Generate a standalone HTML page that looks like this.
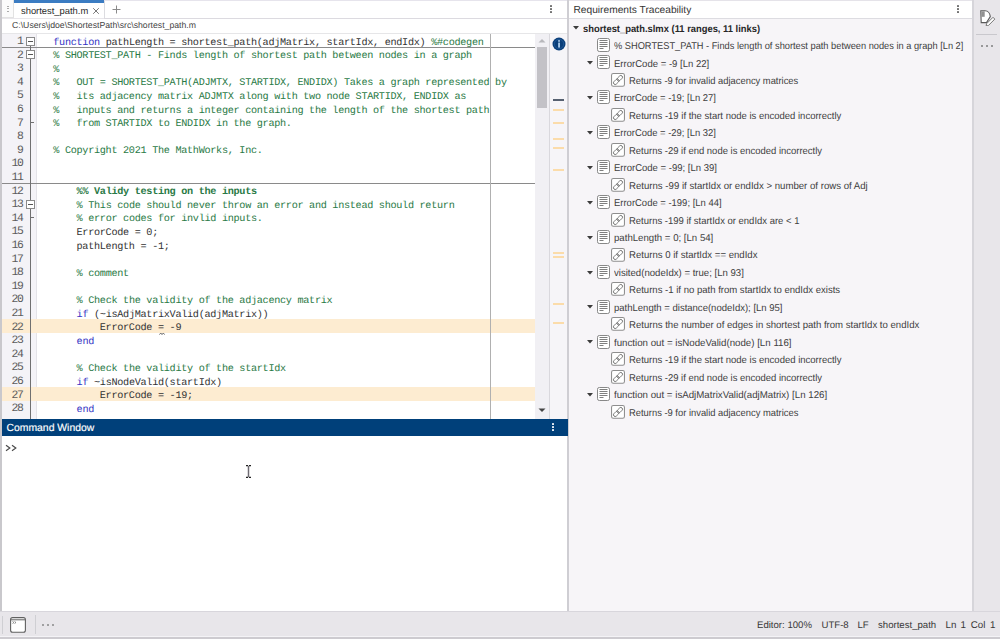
<!DOCTYPE html>
<html><head><meta charset="utf-8">
<style>
*{box-sizing:border-box;margin:0;padding:0}
html,body{width:1000px;height:639px;overflow:hidden}
body{position:relative;background:#e8e6ea;font-family:"Liberation Sans",sans-serif;color:#333;text-rendering:geometricPrecision}
.a{position:absolute}
.code{font-family:"Liberation Mono",monospace;font-size:10.2px;letter-spacing:-0.3px;line-height:13.6px;white-space:pre;color:#333}
.kw{color:#3434c4}
.cm{color:#2a7a46}
.ln{font-family:"Liberation Mono",monospace;font-size:11.4px;letter-spacing:-1.25px;line-height:13.6px;white-space:pre;color:#5c5c5c;text-align:right}
.tree{font-size:9.9px;white-space:pre;color:#404040}
.row{position:absolute;height:17px}
</style></head><body>

<!-- left border -->
<div class="a" style="left:0;top:0;width:2px;height:611px;background:#c9c8cc"></div>

<!-- tab strip -->
<div class="a" style="left:2px;top:0;width:565px;height:18px;background:#fff"></div>
<div class="a" style="left:2px;top:0;width:12px;height:18px;background:#fbfbfb;border-right:1px solid #e2e2e2;border-bottom:1px solid #e2e2e2"></div>
<div class="a" style="left:7px;top:6px;width:2px;height:6px;border-top:1px solid #aaa;border-bottom:1px solid #aaa"></div>
<div class="a" style="left:7px;top:8px;width:2px;height:2px;border-top:1px solid #aaa"></div>
<div class="a" style="left:104px;top:0;width:463px;height:1px;background:#e6e4ec"></div>
<div class="a" style="left:104px;top:1px;width:1px;height:17px;background:#dcdce0"></div>
<div class="a" style="left:104px;top:18px;width:463px;height:1px;background:#dcdae0"></div>
<div class="a" style="left:14px;top:0;width:90px;height:3px;background:#3b7cc2"></div>
<div class="a" style="left:21px;top:5px;font-size:9.4px;line-height:12px;color:#2a2a2a">shortest_path.m</div>
<svg class="a" style="left:92px;top:7px" width="8" height="8"><path d="M1.2 1.2L6.8 6.8M6.8 1.2L1.2 6.8" stroke="#6a6a6a" stroke-width="0.9"/></svg>
<svg class="a" style="left:112px;top:5px" width="9" height="9"><path d="M4.5 0.5V8.5M0.5 4.5H8.5" stroke="#8a8a8a" stroke-width="1"/></svg>
<!-- kebab -->
<div class="a" style="left:550px;top:4.8px;width:2px;height:2px;background:#707070;border-radius:0.6px"></div>
<div class="a" style="left:550px;top:8px;width:2px;height:2px;background:#707070;border-radius:0.6px"></div>
<div class="a" style="left:550px;top:11.2px;width:2px;height:2px;background:#707070;border-radius:0.6px"></div>

<!-- path bar -->
<div class="a" style="left:2px;top:19px;width:565px;height:15px;background:#fff"></div>
<div class="a" style="left:2px;top:33px;width:565px;height:1px;background:#e6e6e8"></div>
<div class="a" style="left:12px;top:20px;font-size:8.7px;line-height:11px;color:#444">C:\Users\jdoe\ShortestPath\src\shortest_path.m</div>

<!-- editor -->
<div class="a" style="left:2px;top:34px;width:565px;height:385px;background:#fff"></div>
<div class="a" style="left:2px;top:34px;width:35px;height:385px;background:#f4f3f7"></div>
<div class="a" style="left:36px;top:34px;width:1px;height:385px;background:#e4e3e8"></div>

<!-- highlights -->
<div class="a" style="left:2px;top:319.2px;width:533px;height:13.6px;background:#fdecd1"></div>
<div class="a" style="left:2px;top:387.2px;width:533px;height:13.6px;background:#fdecd1"></div>

<!-- cell break lines -->
<div class="a" style="left:2px;top:46.6px;width:533px;height:1px;background:#8a8a8a"></div>
<div class="a" style="left:2px;top:183px;width:533px;height:1px;background:#8a8a8a"></div>

<!-- right margin line -->
<div class="a" style="left:490px;top:34px;width:1px;height:385px;background:#b0b0b0"></div>

<!-- line numbers -->
<div class="a ln" style="left:2px;top:35.90px;width:20.7px">1</div>
<div class="a ln" style="left:2px;top:49.50px;width:20.7px">2</div>
<div class="a ln" style="left:2px;top:63.10px;width:20.7px">3</div>
<div class="a ln" style="left:2px;top:76.70px;width:20.7px">4</div>
<div class="a ln" style="left:2px;top:90.30px;width:20.7px">5</div>
<div class="a ln" style="left:2px;top:103.90px;width:20.7px">6</div>
<div class="a ln" style="left:2px;top:117.50px;width:20.7px">7</div>
<div class="a ln" style="left:2px;top:131.10px;width:20.7px">8</div>
<div class="a ln" style="left:2px;top:144.70px;width:20.7px">9</div>
<div class="a ln" style="left:2px;top:158.30px;width:20.7px">10</div>
<div class="a ln" style="left:2px;top:171.90px;width:20.7px">11</div>
<div class="a ln" style="left:2px;top:185.50px;width:20.7px">12</div>
<div class="a ln" style="left:2px;top:199.10px;width:20.7px">13</div>
<div class="a ln" style="left:2px;top:212.70px;width:20.7px">14</div>
<div class="a ln" style="left:2px;top:226.30px;width:20.7px">15</div>
<div class="a ln" style="left:2px;top:239.90px;width:20.7px">16</div>
<div class="a ln" style="left:2px;top:253.50px;width:20.7px">17</div>
<div class="a ln" style="left:2px;top:267.10px;width:20.7px">18</div>
<div class="a ln" style="left:2px;top:280.70px;width:20.7px">19</div>
<div class="a ln" style="left:2px;top:294.30px;width:20.7px">20</div>
<div class="a ln" style="left:2px;top:307.90px;width:20.7px">21</div>
<div class="a ln" style="left:2px;top:321.50px;width:20.7px">22</div>
<div class="a ln" style="left:2px;top:335.10px;width:20.7px">23</div>
<div class="a ln" style="left:2px;top:348.70px;width:20.7px">24</div>
<div class="a ln" style="left:2px;top:362.30px;width:20.7px">25</div>
<div class="a ln" style="left:2px;top:375.90px;width:20.7px">26</div>
<div class="a ln" style="left:2px;top:389.50px;width:20.7px">27</div>
<div class="a ln" style="left:2px;top:403.10px;width:20.7px">28</div>
<!-- fold markers -->
<div class="a" style="left:30px;top:45px;width:1px;height:374px;background:#707070"></div>
<div class="a" style="left:26px;top:36.5px;width:9px;height:9px;border:1px solid #8a8a8a;background:#fff"></div>
<div class="a" style="left:28px;top:40.5px;width:5px;height:1px;background:#555"></div>
<div class="a" style="left:26px;top:50px;width:9px;height:9px;border:1px solid #8a8a8a;background:#fff"></div>
<div class="a" style="left:28px;top:54px;width:5px;height:1px;background:#555"></div>
<div class="a" style="left:30px;top:121.5px;width:4px;height:1px;background:#707070"></div>
<div class="a" style="left:26px;top:199.5px;width:9px;height:9px;border:1px solid #8a8a8a;background:#fff"></div>
<div class="a" style="left:28px;top:203.5px;width:5px;height:1px;background:#555"></div>
<div class="a" style="left:30px;top:216.6px;width:4px;height:1px;background:#707070"></div>

<!-- code -->
<div class="a code" style="left:53.3px;top:36.50px"><span class="kw">function</span> pathLength = shortest_path(adjMatrix, startIdx, endIdx) <span class="cm">%#codegen</span></div>
<div class="a code" style="left:53.3px;top:50.10px"><span class="cm">% SHORTEST_PATH - Finds length of shortest path between nodes in a graph</span></div>
<div class="a code" style="left:53.3px;top:63.70px"><span class="cm">%</span></div>
<div class="a code" style="left:53.3px;top:77.30px"><span class="cm">%   OUT = SHORTEST_PATH(ADJMTX, STARTIDX, ENDIDX) Takes a graph represented by</span></div>
<div class="a code" style="left:53.3px;top:90.90px"><span class="cm">%   its adjacency matrix ADJMTX along with two node STARTIDX, ENDIDX as</span></div>
<div class="a code" style="left:53.3px;top:104.50px"><span class="cm">%   inputs and returns a integer containing the length of the shortest path</span></div>
<div class="a code" style="left:53.3px;top:118.10px"><span class="cm">%   from STARTIDX to ENDIDX in the graph.</span></div>
<div class="a code" style="left:53.3px;top:145.30px"><span class="cm">% Copyright 2021 The MathWorks, Inc.</span></div>
<div class="a code" style="left:53.3px;top:186.10px">    <span class="cm" style="font-weight:bold">%% Validy testing on the inputs</span></div>
<div class="a code" style="left:53.3px;top:199.70px">    <span class="cm">% This code should never throw an error and instead should return</span></div>
<div class="a code" style="left:53.3px;top:213.30px">    <span class="cm">% error codes for invlid inputs.</span></div>
<div class="a code" style="left:53.3px;top:226.90px">    ErrorCode = 0;</div>
<div class="a code" style="left:53.3px;top:240.50px">    pathLength = -1;</div>
<div class="a code" style="left:53.3px;top:267.70px">    <span class="cm">% comment</span></div>
<div class="a code" style="left:53.3px;top:294.90px">    <span class="cm">% Check the validity of the adjacency matrix</span></div>
<div class="a code" style="left:53.3px;top:308.50px">    <span class="kw">if</span> (~isAdjMatrixValid(adjMatrix))</div>
<div class="a code" style="left:53.3px;top:322.10px">        ErrorCode = -9</div>
<div class="a code" style="left:53.3px;top:335.70px">    <span class="kw">end</span></div>
<div class="a code" style="left:53.3px;top:362.90px">    <span class="cm">% Check the validity of the startIdx</span></div>
<div class="a code" style="left:53.3px;top:376.50px">    <span class="kw">if</span> ~isNodeValid(startIdx)</div>
<div class="a code" style="left:53.3px;top:390.10px">        ErrorCode = -19;</div>
<div class="a code" style="left:53.3px;top:403.70px">    <span class="kw">end</span></div>
<!-- scrollbar -->
<div class="a" style="left:535px;top:34px;width:14px;height:385px;background:#f1f0f4"></div>
<div class="a" style="left:537px;top:47px;width:10px;height:61px;background:#c3c2c7"></div>
<svg class="a" style="left:538px;top:38px" width="8" height="5"><path d="M0.5 4.5L4 1L7.5 4.5Z" fill="#b8b8bc"/></svg>
<svg class="a" style="left:538px;top:408px" width="8" height="5"><path d="M0.5 0.5L4 4L7.5 0.5Z" fill="#444"/></svg>
<div class="a" style="left:549px;top:34px;width:1px;height:385px;background:#d9d8dd"></div>
<div class="a" style="left:550px;top:34px;width:17px;height:385px;background:#f6f5f8"></div>
<!-- info icon -->
<svg class="a" style="left:552px;top:36.6px" width="14" height="14" viewBox="0 0 14 14"><circle cx="7" cy="7" r="6.5" fill="#0a3f7a"/><circle cx="7" cy="7" r="4.7" fill="none" stroke="#2c65a3" stroke-width="0.6"/><rect x="6.2" y="5.6" width="1.7" height="5" fill="#b5d5f3"/><circle cx="7.05" cy="3.9" r="0.95" fill="#b5d5f3"/></svg>
<!-- ruler markers -->
<div class="a" style="left:553px;top:99px;width:11px;height:2.2px;background:#566070"></div>
<div class="a" style="left:553px;top:109px;width:11px;height:1.6px;background:#fbdcaa"></div>
<div class="a" style="left:553px;top:122px;width:11px;height:1.6px;background:#fbdcaa"></div>
<div class="a" style="left:553px;top:138px;width:11px;height:1.6px;background:#fbdcaa"></div>
<div class="a" style="left:553px;top:147px;width:11px;height:1.6px;background:#fbdcaa"></div>
<div class="a" style="left:553px;top:169px;width:11px;height:1.6px;background:#fbdcaa"></div>
<div class="a" style="left:553px;top:252px;width:11px;height:1.6px;background:#fbdcaa"></div>
<div class="a" style="left:553px;top:256px;width:11px;height:1.6px;background:#fbdcaa"></div>
<div class="a" style="left:553px;top:303px;width:11px;height:1.6px;background:#fbdcaa"></div>
<div class="a" style="left:553px;top:322px;width:11px;height:1.6px;background:#fbdcaa"></div>

<!-- splitter -->
<div class="a" style="left:567px;top:0;width:2px;height:611px;background:#cfced3"></div>

<!-- command window -->
<div class="a" style="left:2px;top:418.8px;width:565.6px;height:17.2px;background:#00407a"></div>
<div class="a" style="left:6.5px;top:421.6px;font-size:10.4px;line-height:13px;color:#fff;-webkit-text-stroke:0.15px #fff">Command Window</div>
<svg class="a" style="left:158.5px;top:331.5px" width="6" height="4"><path d="M0.4 2.6L1.8 1L3 2.6L4.3 1L5.6 2.6" stroke="#606060" stroke-width="0.9" fill="none"/></svg>
<div class="a" style="left:552px;top:423px;width:2px;height:2px;background:#e8eef5;border-radius:0.6px"></div>
<div class="a" style="left:552px;top:426px;width:2px;height:2px;background:#e8eef5;border-radius:0.6px"></div>
<div class="a" style="left:552px;top:429px;width:2px;height:2px;background:#e8eef5;border-radius:0.6px"></div>
<div class="a" style="left:2px;top:436px;width:565px;height:175px;background:#fff"></div>
<svg class="a" style="left:0;top:440px" width="20" height="14"><path d="M6 5.3L9.8 8L6 10.7M12 5.3L15.8 8L12 10.7" stroke="#4a4a4a" stroke-width="1.2" fill="none"/></svg>
<!-- I-beam cursor -->
<svg class="a" style="left:244.6px;top:465px" width="7" height="13"><path d="M3.5 0.8V12.2" stroke="#6e6a72" stroke-width="1.5" fill="none"/><path d="M1 0.6H3M4 0.6H6M1 12.4H3M4 12.4H6" stroke="#222" stroke-width="1.2" fill="none"/></svg>

<!-- right panel -->
<div class="a" style="left:569px;top:0;width:403px;height:18px;background:#fff"></div>
<div class="a" style="left:569px;top:18px;width:403px;height:1px;background:#dddce1"></div>
<div class="a" style="left:569px;top:0;width:403px;height:1px;background:#e5e3e9"></div>
<div class="a" style="left:569px;top:19px;width:403px;height:592px;background:#f7f5f8"></div>
<div class="a" style="left:573.5px;top:4px;font-size:10.2px;line-height:13px;color:#333">Requirements Traceability</div>
<div class="a" style="left:957px;top:4.8px;width:2px;height:2px;background:#707070;border-radius:0.6px"></div>
<div class="a" style="left:957px;top:8px;width:2px;height:2px;background:#707070;border-radius:0.6px"></div>
<div class="a" style="left:957px;top:11.2px;width:2px;height:2px;background:#707070;border-radius:0.6px"></div>
<div class="a" style="left:972px;top:0;width:2px;height:611px;background:#d6d5da"></div>
<div class="a" style="left:974px;top:0;width:26px;height:611px;background:#e8e6ea"></div>
<svg class="a" style="left:978px;top:8px" width="20" height="18" viewBox="0 0 20 18"><path d="M2.8 2.8H7C10 2.8 12 5.5 12.3 8.5L8.5 14.6H3.2Z" fill="#fff" stroke="#5a5a5a" stroke-width="1.1"/><rect x="3.3" y="3.3" width="3.4" height="5.5" fill="#909090"/><path d="M8.5 15.8L15 9.3L16.8 11.1L10.3 17.6L8.2 18Z" fill="#fff" stroke="#666" stroke-width="0.9"/></svg>
<div class="a" style="left:976px;top:33.5px;width:21px;height:1px;background:#c9c8cd"></div>
<div class="a" style="left:980.8px;top:45.2px;width:2px;height:2px;background:#7e7e7e;border-radius:1px"></div>
<div class="a" style="left:985.8px;top:45.2px;width:2px;height:2px;background:#7e7e7e;border-radius:1px"></div>
<div class="a" style="left:990.8px;top:45.2px;width:2px;height:2px;background:#7e7e7e;border-radius:1px"></div>

<div id="tree"><svg class="a" style="left:572.6px;top:25.95px" width="6" height="4" viewBox="0 0 6 4"><path d="M0 0H6L3 3.5Z" fill="#3c3c3c"/></svg>
<div class="a tree" style="left:582.5px;top:23.62px;font-weight:bold;transform:scaleX(0.9487);transform-origin:0 0;color:#262626">shortest_path.slmx (11 ranges, 11 links)</div>
<svg class="a" style="left:597px;top:38.00px" width="13" height="14" viewBox="0 0 13 14"><rect x="0.5" y="0.5" width="12" height="13" rx="1.8" fill="#fff" stroke="#888"/><path d="M2.5 2.5H10.5M2.5 4.5H10.5M2.5 6.5H10.5M2.5 8.5H10.5M2.5 10.5H6.5" stroke="#707070" stroke-width="0.9"/></svg>
<div class="a tree" style="left:613.75px;top:41.07px;transform:scaleX(0.9373);transform-origin:0 0">% SHORTEST_PATH - Finds length of shortest path between nodes in a graph [Ln 2]</div>
<svg class="a" style="left:587px;top:61.15px" width="6" height="4" viewBox="0 0 6 4"><path d="M0 0H6L3 3.5Z" fill="#3c3c3c"/></svg>
<svg class="a" style="left:597px;top:55.45px" width="13" height="14" viewBox="0 0 13 14"><rect x="0.5" y="0.5" width="12" height="13" rx="1.8" fill="#fff" stroke="#888"/><path d="M2.5 2.5H10.5M2.5 4.5H10.5M2.5 6.5H10.5M2.5 8.5H10.5M2.5 10.5H6.5" stroke="#707070" stroke-width="0.9"/></svg>
<div class="a tree" style="left:613.75px;top:58.52px;transform:scaleX(0.9667);transform-origin:0 0">ErrorCode = -9 [Ln 22]</div>
<svg class="a" style="left:611px;top:73.00px" width="14" height="14" viewBox="0 0 14 14"><rect x="0.55" y="0.55" width="12.9" height="12.7" rx="1.8" fill="#fff" stroke="#8e8e8e" stroke-width="1.05"/><g transform="rotate(-45 7 7)" fill="none" stroke="#707070" stroke-width="0.9"><rect x="1.3" y="5.3" width="6.4" height="3.4" rx="1.7"/><rect x="6.3" y="5.3" width="6.4" height="3.4" rx="1.7"/></g></svg>
<div class="a tree" style="left:628.8px;top:75.97px;transform:scaleX(0.9489);transform-origin:0 0">Returns -9 for invalid adjacency matrices</div>
<svg class="a" style="left:587px;top:96.05px" width="6" height="4" viewBox="0 0 6 4"><path d="M0 0H6L3 3.5Z" fill="#3c3c3c"/></svg>
<svg class="a" style="left:597px;top:90.35px" width="13" height="14" viewBox="0 0 13 14"><rect x="0.5" y="0.5" width="12" height="13" rx="1.8" fill="#fff" stroke="#888"/><path d="M2.5 2.5H10.5M2.5 4.5H10.5M2.5 6.5H10.5M2.5 8.5H10.5M2.5 10.5H6.5" stroke="#707070" stroke-width="0.9"/></svg>
<div class="a tree" style="left:613.75px;top:93.42px;transform:scaleX(0.9544);transform-origin:0 0">ErrorCode = -19; [Ln 27]</div>
<svg class="a" style="left:611px;top:107.90px" width="14" height="14" viewBox="0 0 14 14"><rect x="0.55" y="0.55" width="12.9" height="12.7" rx="1.8" fill="#fff" stroke="#8e8e8e" stroke-width="1.05"/><g transform="rotate(-45 7 7)" fill="none" stroke="#707070" stroke-width="0.9"><rect x="1.3" y="5.3" width="6.4" height="3.4" rx="1.7"/><rect x="6.3" y="5.3" width="6.4" height="3.4" rx="1.7"/></g></svg>
<div class="a tree" style="left:628.8px;top:110.87px;transform:scaleX(0.9621);transform-origin:0 0">Returns -19 if the start node is encoded incorrectly</div>
<svg class="a" style="left:587px;top:130.95px" width="6" height="4" viewBox="0 0 6 4"><path d="M0 0H6L3 3.5Z" fill="#3c3c3c"/></svg>
<svg class="a" style="left:597px;top:125.25px" width="13" height="14" viewBox="0 0 13 14"><rect x="0.5" y="0.5" width="12" height="13" rx="1.8" fill="#fff" stroke="#888"/><path d="M2.5 2.5H10.5M2.5 4.5H10.5M2.5 6.5H10.5M2.5 8.5H10.5M2.5 10.5H6.5" stroke="#707070" stroke-width="0.9"/></svg>
<div class="a tree" style="left:613.75px;top:128.32px;transform:scaleX(0.9544);transform-origin:0 0">ErrorCode = -29; [Ln 32]</div>
<svg class="a" style="left:611px;top:142.80px" width="14" height="14" viewBox="0 0 14 14"><rect x="0.55" y="0.55" width="12.9" height="12.7" rx="1.8" fill="#fff" stroke="#8e8e8e" stroke-width="1.05"/><g transform="rotate(-45 7 7)" fill="none" stroke="#707070" stroke-width="0.9"><rect x="1.3" y="5.3" width="6.4" height="3.4" rx="1.7"/><rect x="6.3" y="5.3" width="6.4" height="3.4" rx="1.7"/></g></svg>
<div class="a tree" style="left:628.8px;top:145.77px;transform:scaleX(0.9583);transform-origin:0 0">Returns -29 if end node is encoded incorrectly</div>
<svg class="a" style="left:587px;top:165.85px" width="6" height="4" viewBox="0 0 6 4"><path d="M0 0H6L3 3.5Z" fill="#3c3c3c"/></svg>
<svg class="a" style="left:597px;top:160.15px" width="13" height="14" viewBox="0 0 13 14"><rect x="0.5" y="0.5" width="12" height="13" rx="1.8" fill="#fff" stroke="#888"/><path d="M2.5 2.5H10.5M2.5 4.5H10.5M2.5 6.5H10.5M2.5 8.5H10.5M2.5 10.5H6.5" stroke="#707070" stroke-width="0.9"/></svg>
<div class="a tree" style="left:613.75px;top:163.22px;transform:scaleX(0.9638);transform-origin:0 0">ErrorCode = -99; [Ln 39]</div>
<svg class="a" style="left:611px;top:177.70px" width="14" height="14" viewBox="0 0 14 14"><rect x="0.55" y="0.55" width="12.9" height="12.7" rx="1.8" fill="#fff" stroke="#8e8e8e" stroke-width="1.05"/><g transform="rotate(-45 7 7)" fill="none" stroke="#707070" stroke-width="0.9"><rect x="1.3" y="5.3" width="6.4" height="3.4" rx="1.7"/><rect x="6.3" y="5.3" width="6.4" height="3.4" rx="1.7"/></g></svg>
<div class="a tree" style="left:628.8px;top:180.67px;transform:scaleX(0.9742);transform-origin:0 0">Returns -99 if startIdx or endIdx &gt; number of rows of Adj</div>
<svg class="a" style="left:587px;top:200.75px" width="6" height="4" viewBox="0 0 6 4"><path d="M0 0H6L3 3.5Z" fill="#3c3c3c"/></svg>
<svg class="a" style="left:597px;top:195.05px" width="13" height="14" viewBox="0 0 13 14"><rect x="0.5" y="0.5" width="12" height="13" rx="1.8" fill="#fff" stroke="#888"/><path d="M2.5 2.5H10.5M2.5 4.5H10.5M2.5 6.5H10.5M2.5 8.5H10.5M2.5 10.5H6.5" stroke="#707070" stroke-width="0.9"/></svg>
<div class="a tree" style="left:613.75px;top:198.12px;transform:scaleX(0.9584);transform-origin:0 0">ErrorCode = -199; [Ln 44]</div>
<svg class="a" style="left:611px;top:212.60px" width="14" height="14" viewBox="0 0 14 14"><rect x="0.55" y="0.55" width="12.9" height="12.7" rx="1.8" fill="#fff" stroke="#8e8e8e" stroke-width="1.05"/><g transform="rotate(-45 7 7)" fill="none" stroke="#707070" stroke-width="0.9"><rect x="1.3" y="5.3" width="6.4" height="3.4" rx="1.7"/><rect x="6.3" y="5.3" width="6.4" height="3.4" rx="1.7"/></g></svg>
<div class="a tree" style="left:628.8px;top:215.57px;transform:scaleX(0.9599);transform-origin:0 0">Returns -199 if startIdx or endIdx are &lt; 1</div>
<svg class="a" style="left:587px;top:235.65px" width="6" height="4" viewBox="0 0 6 4"><path d="M0 0H6L3 3.5Z" fill="#3c3c3c"/></svg>
<svg class="a" style="left:597px;top:229.95px" width="13" height="14" viewBox="0 0 13 14"><rect x="0.5" y="0.5" width="12" height="13" rx="1.8" fill="#fff" stroke="#888"/><path d="M2.5 2.5H10.5M2.5 4.5H10.5M2.5 6.5H10.5M2.5 8.5H10.5M2.5 10.5H6.5" stroke="#707070" stroke-width="0.9"/></svg>
<div class="a tree" style="left:613.75px;top:233.02px;transform:scaleX(0.9746);transform-origin:0 0">pathLength = 0; [Ln 54]</div>
<svg class="a" style="left:611px;top:247.50px" width="14" height="14" viewBox="0 0 14 14"><rect x="0.55" y="0.55" width="12.9" height="12.7" rx="1.8" fill="#fff" stroke="#8e8e8e" stroke-width="1.05"/><g transform="rotate(-45 7 7)" fill="none" stroke="#707070" stroke-width="0.9"><rect x="1.3" y="5.3" width="6.4" height="3.4" rx="1.7"/><rect x="6.3" y="5.3" width="6.4" height="3.4" rx="1.7"/></g></svg>
<div class="a tree" style="left:628.8px;top:250.47px;transform:scaleX(0.971);transform-origin:0 0">Returns 0 if startIdx == endIdx</div>
<svg class="a" style="left:587px;top:270.55px" width="6" height="4" viewBox="0 0 6 4"><path d="M0 0H6L3 3.5Z" fill="#3c3c3c"/></svg>
<svg class="a" style="left:597px;top:264.85px" width="13" height="14" viewBox="0 0 13 14"><rect x="0.5" y="0.5" width="12" height="13" rx="1.8" fill="#fff" stroke="#888"/><path d="M2.5 2.5H10.5M2.5 4.5H10.5M2.5 6.5H10.5M2.5 8.5H10.5M2.5 10.5H6.5" stroke="#707070" stroke-width="0.9"/></svg>
<div class="a tree" style="left:613.75px;top:267.92px;transform:scaleX(0.9715);transform-origin:0 0">visited(nodeIdx) = true; [Ln 93]</div>
<svg class="a" style="left:611px;top:282.40px" width="14" height="14" viewBox="0 0 14 14"><rect x="0.55" y="0.55" width="12.9" height="12.7" rx="1.8" fill="#fff" stroke="#8e8e8e" stroke-width="1.05"/><g transform="rotate(-45 7 7)" fill="none" stroke="#707070" stroke-width="0.9"><rect x="1.3" y="5.3" width="6.4" height="3.4" rx="1.7"/><rect x="6.3" y="5.3" width="6.4" height="3.4" rx="1.7"/></g></svg>
<div class="a tree" style="left:628.8px;top:285.37px;transform:scaleX(0.9665);transform-origin:0 0">Returns -1 if no path from startIdx to endIdx exists</div>
<svg class="a" style="left:587px;top:305.45px" width="6" height="4" viewBox="0 0 6 4"><path d="M0 0H6L3 3.5Z" fill="#3c3c3c"/></svg>
<svg class="a" style="left:597px;top:299.75px" width="13" height="14" viewBox="0 0 13 14"><rect x="0.5" y="0.5" width="12" height="13" rx="1.8" fill="#fff" stroke="#888"/><path d="M2.5 2.5H10.5M2.5 4.5H10.5M2.5 6.5H10.5M2.5 8.5H10.5M2.5 10.5H6.5" stroke="#707070" stroke-width="0.9"/></svg>
<div class="a tree" style="left:613.75px;top:302.82px;transform:scaleX(0.9637);transform-origin:0 0">pathLength = distance(nodeIdx); [Ln 95]</div>
<svg class="a" style="left:611px;top:317.30px" width="14" height="14" viewBox="0 0 14 14"><rect x="0.55" y="0.55" width="12.9" height="12.7" rx="1.8" fill="#fff" stroke="#8e8e8e" stroke-width="1.05"/><g transform="rotate(-45 7 7)" fill="none" stroke="#707070" stroke-width="0.9"><rect x="1.3" y="5.3" width="6.4" height="3.4" rx="1.7"/><rect x="6.3" y="5.3" width="6.4" height="3.4" rx="1.7"/></g></svg>
<div class="a tree" style="left:628.8px;top:320.27px;transform:scaleX(0.9703);transform-origin:0 0">Returns the number of edges in shortest path from startIdx to endIdx</div>
<svg class="a" style="left:587px;top:340.35px" width="6" height="4" viewBox="0 0 6 4"><path d="M0 0H6L3 3.5Z" fill="#3c3c3c"/></svg>
<svg class="a" style="left:597px;top:334.65px" width="13" height="14" viewBox="0 0 13 14"><rect x="0.5" y="0.5" width="12" height="13" rx="1.8" fill="#fff" stroke="#888"/><path d="M2.5 2.5H10.5M2.5 4.5H10.5M2.5 6.5H10.5M2.5 8.5H10.5M2.5 10.5H6.5" stroke="#707070" stroke-width="0.9"/></svg>
<div class="a tree" style="left:613.75px;top:337.72px;transform:scaleX(0.9836);transform-origin:0 0">function out = isNodeValid(node) [Ln 116]</div>
<svg class="a" style="left:611px;top:352.20px" width="14" height="14" viewBox="0 0 14 14"><rect x="0.55" y="0.55" width="12.9" height="12.7" rx="1.8" fill="#fff" stroke="#8e8e8e" stroke-width="1.05"/><g transform="rotate(-45 7 7)" fill="none" stroke="#707070" stroke-width="0.9"><rect x="1.3" y="5.3" width="6.4" height="3.4" rx="1.7"/><rect x="6.3" y="5.3" width="6.4" height="3.4" rx="1.7"/></g></svg>
<div class="a tree" style="left:628.8px;top:355.17px;transform:scaleX(0.963);transform-origin:0 0">Returns -19 if the start node is encoded incorrectly</div>
<svg class="a" style="left:611px;top:369.65px" width="14" height="14" viewBox="0 0 14 14"><rect x="0.55" y="0.55" width="12.9" height="12.7" rx="1.8" fill="#fff" stroke="#8e8e8e" stroke-width="1.05"/><g transform="rotate(-45 7 7)" fill="none" stroke="#707070" stroke-width="0.9"><rect x="1.3" y="5.3" width="6.4" height="3.4" rx="1.7"/><rect x="6.3" y="5.3" width="6.4" height="3.4" rx="1.7"/></g></svg>
<div class="a tree" style="left:628.8px;top:372.62px;transform:scaleX(0.9583);transform-origin:0 0">Returns -29 if end node is encoded incorrectly</div>
<svg class="a" style="left:587px;top:392.70px" width="6" height="4" viewBox="0 0 6 4"><path d="M0 0H6L3 3.5Z" fill="#3c3c3c"/></svg>
<svg class="a" style="left:597px;top:387.00px" width="13" height="14" viewBox="0 0 13 14"><rect x="0.5" y="0.5" width="12" height="13" rx="1.8" fill="#fff" stroke="#888"/><path d="M2.5 2.5H10.5M2.5 4.5H10.5M2.5 6.5H10.5M2.5 8.5H10.5M2.5 10.5H6.5" stroke="#707070" stroke-width="0.9"/></svg>
<div class="a tree" style="left:613.75px;top:390.07px;transform:scaleX(0.9826);transform-origin:0 0">function out = isAdjMatrixValid(adjMatrix) [Ln 126]</div>
<svg class="a" style="left:611px;top:404.55px" width="14" height="14" viewBox="0 0 14 14"><rect x="0.55" y="0.55" width="12.9" height="12.7" rx="1.8" fill="#fff" stroke="#8e8e8e" stroke-width="1.05"/><g transform="rotate(-45 7 7)" fill="none" stroke="#707070" stroke-width="0.9"><rect x="1.3" y="5.3" width="6.4" height="3.4" rx="1.7"/><rect x="6.3" y="5.3" width="6.4" height="3.4" rx="1.7"/></g></svg>
<div class="a tree" style="left:628.8px;top:407.52px;transform:scaleX(0.9494);transform-origin:0 0">Returns -9 for invalid adjacency matrices</div></div><!--/tree-->

<!-- bottom bar -->
<div class="a" style="left:0;top:610.5px;width:1000px;height:1px;background:#d8d6dc"></div>
<div class="a" style="left:0;top:636px;width:1000px;height:1px;background:#f4f3f6"></div>
<div class="a" style="left:0;top:637px;width:1000px;height:2px;background:#cdcbd0"></div>
<div class="a" style="left:2px;top:616px;width:1px;height:18px;background:#cfcfd3"></div>
<div class="a" style="left:35px;top:615px;width:1px;height:19px;background:#cfcfd3"></div>
<svg class="a" style="left:10px;top:617px" width="16" height="16" viewBox="0 0 16 16"><rect x="0.6" y="0.6" width="14.8" height="14.6" rx="2" fill="#fff" stroke="#606060" stroke-width="1.1"/><path d="M0.8 2.8H15.2" stroke="#606060" stroke-width="1"/><path d="M2.5 4.5L4 5.5L2.5 6.5M4.5 4.5L6 5.5L4.5 6.5" stroke="#666" stroke-width="0.7" fill="none"/></svg>
<div class="a" style="left:42.3px;top:624px;width:1.8px;height:1.8px;background:#888;border-radius:1px"></div>
<div class="a" style="left:47.3px;top:624px;width:1.8px;height:1.8px;background:#888;border-radius:1px"></div>
<div class="a" style="left:52.3px;top:624px;width:1.8px;height:1.8px;background:#888;border-radius:1px"></div>
<div class="a" style="left:757px;top:620.3px;font-size:9.6px;line-height:12px;color:#383838;white-space:pre">Editor: 100%</div>
<div class="a" style="left:821.5px;top:620.3px;font-size:9.6px;line-height:12px;color:#383838;white-space:pre">UTF-8</div>
<div class="a" style="left:857.5px;top:620.3px;font-size:9.6px;line-height:12px;color:#383838;white-space:pre">LF</div>
<div class="a" style="left:878px;top:620.3px;font-size:9.6px;line-height:12px;color:#383838;white-space:pre">shortest_path</div>
<div class="a" style="left:945.5px;top:620.3px;font-size:9.8px;line-height:12px;color:#383838;white-space:pre">Ln</div>
<div class="a" style="left:960.5px;top:620.3px;font-size:9.8px;line-height:12px;color:#383838;white-space:pre">1</div>
<div class="a" style="left:970.8px;top:620.3px;font-size:9.8px;line-height:12px;color:#383838;white-space:pre">Col</div>
<div class="a" style="left:990px;top:620.3px;font-size:9.8px;line-height:12px;color:#383838;white-space:pre">1</div>

</body></html>
